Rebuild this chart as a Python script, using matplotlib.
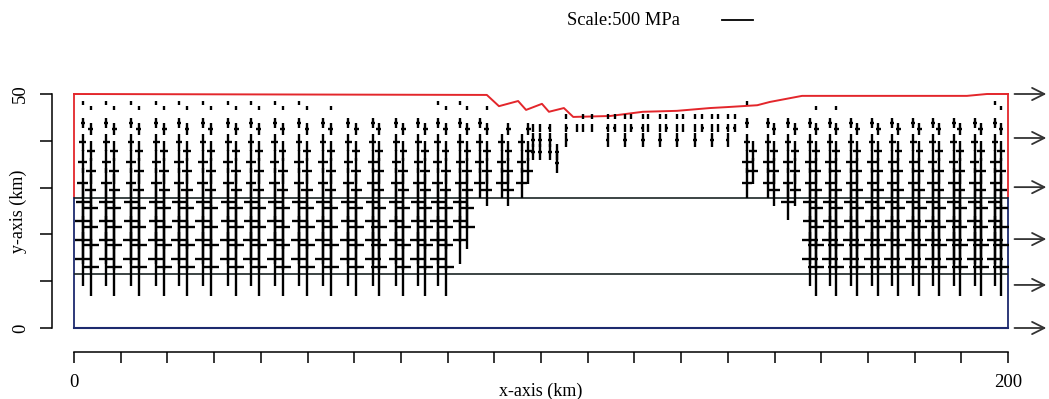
import matplotlib
matplotlib.use("Agg")
import matplotlib.pyplot as plt
from matplotlib.collections import LineCollection

plt.rcParams["font.family"] = ["Liberation Serif", "DejaVu Serif"]

# surface profile (km)
surf_x = [0, 88.4, 91.0, 95.1, 96.8, 100.2, 101.7, 104.9, 106.9, 114.8, 121.8,
          129.1, 136.2, 139.8, 146.3, 149.0, 155.9, 191.2, 195.5, 200]
surf_y = [50.0, 49.8, 47.4, 48.5, 46.6, 47.9, 46.2, 47.0, 45.1, 45.3, 46.2,
          46.4, 47.0, 47.2, 47.6, 48.3, 49.6, 49.6, 50.0, 50.0]
layer_tops = [27.8, 11.5]

# main mesh rows (y km) and stresses (MPa): vertical / horizontal
rows_a_y = [48.1, 43.8, 39.7, 35.5, 31.0, 26.9, 22.9, 18.8, 14.7]
rows_b_y = [47.0, 42.5, 37.8, 33.5, 29.5, 25.6, 21.6, 17.7, 13.0]
sv_a = [70, 165, 275, 370, 480, 580, 680, 780, 883]
sv_b = [75, 195, 315, 420, 515, 610, 710, 808, 925]
sh_a = [25, 60, 110, 150, 175, 230, 240, 250, 250]
sh_b = [30, 80, 120, 160, 180, 235, 245, 250, 255]

# columns: x (km), first row index, last row index
cols_a_x = [1.9, 6.9, 12.2, 17.6, 22.5, 27.6, 33.0, 37.9, 43.0, 48.2, 53.3, 58.7,
            64.0, 69.0, 73.7, 77.9, 82.7, 86.9, 91.6, 95.9,
            144.1, 148.6, 152.9, 157.6, 161.9, 166.4, 170.9, 175.2, 179.7, 183.9,
            188.4, 192.9, 197.2]
cols_a_top = [0, 0, 0, 0, 0, 0, 0, 0, 0, 0, 1, 1, 1, 1, 1, 0, 0, 1, 2, 2,
              0, 1, 1, 1, 1, 1, 1, 1, 1, 1, 1, 1, 0]
cols_a_bot = [8, 8, 8, 8, 8, 8, 8, 8, 8, 8, 8, 8, 8, 8, 8, 8, 7, 4, 4, 4,
              4, 4, 5, 8, 8, 8, 8, 8, 8, 8, 8, 8, 8]
cols_b_x = [3.6, 8.6, 13.9, 19.3, 24.2, 29.3, 34.7, 39.6, 44.7, 49.9, 55.0, 60.4,
            65.3, 70.5, 75.2, 79.6, 84.2, 88.4, 93.0, 97.3,
            145.4, 149.9, 154.4, 158.9, 163.2, 167.7, 172.2, 176.5, 181.0, 185.2,
            189.7, 194.2, 198.5]
cols_b_top = [0, 0, 0, 0, 0, 0, 0, 0, 0, 0, 0, 1, 1, 1, 1, 0, 0, 0, 1, 1,
              2, 1, 1, 0, 0, 1, 1, 1, 1, 1, 1, 1, 0]
cols_b_bot = [8, 8, 8, 8, 8, 8, 8, 8, 8, 8, 8, 8, 8, 8, 8, 8, 6, 4, 4, 3,
              3, 4, 4, 8, 8, 8, 8, 8, 8, 8, 8, 8, 8]

# shallow crosses under the depression
mid_rows_y = [45.2, 42.7, 40.2, 37.6, 35.2]
mid_sv = [80, 130, 220, 260, 300]
mid_sh = [30, 45, 55, 60, 70]
mid_a_x = [98.3, 101.9, 105.4, 109.0, 114.3, 118.0, 121.8, 125.5, 129.1, 133.0, 136.6, 140.0]
mid_a_top = [1, 1, 0, 0, 0, 0, 0, 0, 0, 0, 0, 0]
mid_a_bot = [3, 3, 2, 1, 2, 2, 2, 2, 2, 2, 2, 2]
mid_b_x = [99.8, 103.4, 107.7, 110.9, 115.8, 119.3, 122.9, 126.8, 130.4, 134.5, 137.9, 141.5]
mid_b_top = [1, 3, 1, 0, 0, 0, 0, 0, 0, 0, 0, 0]
mid_b_bot = [3, 4, 1, 1, 1, 1, 1, 1, 1, 1, 1, 1]

arrow_y = [50.0, 40.6, 30.1, 19.0, 9.2, 0.0]

SCALE_MPA = 500
SCALE_KM = 6.6


def crosses(xs, tops, bots, rows_y, sv, sh):
    segs = []
    for x, t, b in zip(xs, tops, bots):
        for i in range(t, b + 1):
            y = rows_y[i]
            hv = sv[i] / SCALE_MPA * SCALE_KM / 2
            hh = sh[i] / SCALE_MPA * SCALE_KM / 2
            segs.append([(x, y - hv), (x, y + hv)])
            segs.append([(x - hh, y), (x + hh, y)])
    return segs


fig = plt.figure(figsize=(10.49, 3.99), dpi=100)
ax = fig.add_axes([74 / 1049, 71 / 399, 934 / 1049, 234 / 399])
ax.set_xlim(0, 200)
ax.set_ylim(0, 50)

red = "#e3262b"
navy = "#1d2a6e"
ax.plot(surf_x, surf_y, color=red, lw=1.4, clip_on=False)
ax.plot([0, 0], [surf_y[0], layer_tops[0]], color=red, lw=1.3, clip_on=False)
ax.plot([200, 200], [surf_y[-1], layer_tops[0]], color=red, lw=1.3, clip_on=False)
ax.plot([0, 0], [layer_tops[0], 0], color=navy, lw=1.3, clip_on=False)
ax.plot([200, 200], [layer_tops[0], 0], color=navy, lw=1.3, clip_on=False)
ax.plot([0, 200], [0, 0], color=navy, lw=1.5, clip_on=False)
for yl in layer_tops:
    ax.plot([0, 200], [yl, yl], color="#1a2424", lw=1.2)

segs = crosses(cols_a_x, cols_a_top, cols_a_bot, rows_a_y, sv_a, sh_a)
segs += crosses(cols_b_x, cols_b_top, cols_b_bot, rows_b_y, sv_b, sh_b)
segs += crosses(mid_a_x, mid_a_top, mid_a_bot, mid_rows_y, mid_sv, mid_sh)
segs += crosses(mid_b_x, mid_b_top, mid_b_bot, mid_rows_y, mid_sv, mid_sh)
ax.add_collection(LineCollection(segs, colors="black", linewidths=1.7, clip_on=False))

for ya in arrow_y:
    ax.annotate("", xy=(208.8, ya), xytext=(200.8, ya),
                arrowprops=dict(arrowstyle="->", color="#333333", lw=1.3,
                                mutation_scale=22),
                annotation_clip=False)

# scale bar
ax.plot([138.8, 138.8 + SCALE_KM], [65.8, 65.8], color="black", lw=1.3, clip_on=False)
fig.text(0.594, 0.948, "Scale:500 MPa", ha="center", va="center", fontsize=13.3)

for s in ["top", "right"]:
    ax.spines[s].set_visible(False)
ax.spines["left"].set_position(("outward", 15.8))
ax.spines["bottom"].set_position(("outward", 17.3))
ax.spines["left"].set_bounds(0, 50)
ax.spines["bottom"].set_bounds(0, 200)
for s in ["left", "bottom"]:
    ax.spines[s].set_linewidth(1.1)

ax.set_xticks(range(0, 201, 10))
ax.set_xticklabels(["0"] + [""] * 19 + ["200"], fontsize=13.5)
ax.set_yticks(range(0, 51, 10))
ax.set_yticklabels(["0", "", "", "", "", "50"], fontsize=13.5, rotation=90, va="center")
ax.tick_params(axis="x", length=7.9, width=1.1, pad=8)
ax.tick_params(axis="y", length=8.6, width=1.1, pad=8)

ax.set_xlabel("x-axis (km)", fontsize=13)
ax.xaxis.set_label_coords(0.5, -0.232)
ax.set_ylabel("y-axis (km)", fontsize=13)
ax.yaxis.set_label_coords(-0.05, 0.5)

fig.savefig("out.png", dpi=100)
